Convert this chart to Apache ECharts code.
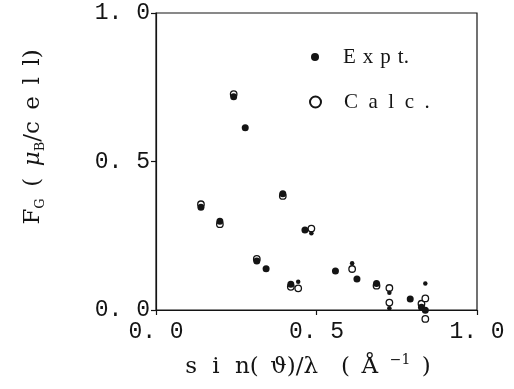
<!DOCTYPE html>
<html>
<head>
<meta charset="utf-8">
<script src="https://cdn.jsdelivr.net/npm/echarts@6/dist/echarts.min.js"></script>
<style>
  html, body { margin: 0; padding: 0; background: #ffffff; }
  #chart { width: 514px; height: 389px; }
</style>
</head>
<body>
<div id="chart"></div>
<script>
// Magnetic form factor F_G (muB/cell) versus sin(theta)/lambda (1/Angstrom)

// Measured reflections (large dots)
const exptX = [0.140, 0.199, 0.242, 0.278, 0.314, 0.343, 0.395, 0.420, 0.464, 0.559, 0.626, 0.687, 0.792, 0.827, 0.839];
const exptY = [0.346, 0.299, 0.718, 0.614, 0.165, 0.139, 0.391, 0.087, 0.269, 0.131, 0.104, 0.089, 0.037, 0.009, -0.001];

// Measured reflections (small dots)
const exptSmallX = [0.443, 0.484, 0.611, 0.727, 0.727, 0.839];
const exptSmallY = [0.095, 0.258, 0.157, 0.058, 0.006, 0.089];

// Calculated values
const calcX = [0.140, 0.199, 0.242, 0.314, 0.395, 0.420, 0.443, 0.484, 0.611, 0.687, 0.727, 0.727, 0.827, 0.839, 0.839];
const calcY = [0.356, 0.289, 0.727, 0.172, 0.384, 0.078, 0.073, 0.274, 0.138, 0.082, 0.074, 0.025, 0.021, 0.039, -0.030];

const xTickLabels = ['0. 0', '0. 5', '1. 0'];
const yTickLabels = ['0. 0', '0. 5', '1. 0'];
const legendLabels = { 'Expt.': 'E\u2004x\u2004p\u2004t.', 'Calc.': 'C\u2002a\u2002l\u2002c\u2002.' };

const INK = '#141414';
const SERIF = "'Liberation Serif', 'DejaVu Serif', serif";
const TITLE = "'DejaVu Serif', 'Liberation Serif', serif";
const MONO = "'Liberation Mono', 'DejaVu Sans Mono', monospace";

function pairs(xs, ys) { return xs.map((x, i) => [x, ys[i]]); }
function tickText(labels) { return v => labels[Math.round(v / 0.5)]; }

const chart = echarts.init(document.getElementById('chart'), null, { renderer: 'canvas' });

const axisCommon = {
  type: 'value',
  min: 0,
  max: 1,
  interval: 0.5,
  axisLine: { show: true, lineStyle: { color: INK, width: 1.2 } },
  axisTick: { show: true, inside: false, length: 5, lineStyle: { color: INK, width: 1.2 } },
  splitLine: { show: false },
  axisLabel: { color: INK, fontFamily: MONO, fontSize: 23 }
};

chart.setOption({
  animation: false,
  backgroundColor: '#ffffff',
  grid: {
    left: 156, right: 37, top: 13, bottom: 79,
    show: true, borderColor: INK, borderWidth: 1.2, backgroundColor: 'transparent',
    containLabel: false, outerBoundsMode: 'none'
  },
  xAxis: Object.assign({}, axisCommon, {
    axisLabel: Object.assign({}, axisCommon.axisLabel, { margin: 10, formatter: tickText(xTickLabels) })
  }),
  yAxis: Object.assign({}, axisCommon, {
    axisLabel: Object.assign({}, axisCommon.axisLabel, { margin: 6, formatter: tickText(yTickLabels) })
  }),
  legend: [
    {
      data: ['Expt.'], left: 311, top: 46, padding: 0, orient: 'vertical',
      icon: 'circle', itemWidth: 8, itemHeight: 8, selectedMode: false,
      formatter: n => legendLabels[n],
      textStyle: { fontFamily: SERIF, fontSize: 21, color: INK, lineHeight: 22, padding: [0, 0, 0, 19] }
    },
    {
      data: ['Calc.'], left: 309, top: 91, padding: 0, orient: 'vertical',
      icon: 'circle', itemWidth: 11, itemHeight: 11, selectedMode: false,
      formatter: n => legendLabels[n],
      textStyle: { fontFamily: SERIF, fontSize: 21, color: INK, lineHeight: 22, padding: [0, 0, 0, 18] }
    }
  ],
  series: [
    {
      name: 'Calc.', type: 'scatter', clip: false, z: 2,
      symbol: 'circle', symbolSize: 6.5,
      itemStyle: { color: '#ffffff', borderColor: INK, borderWidth: 1.3, opacity: 1 },
      emphasis: { disabled: true },
      data: pairs(calcX, calcY)
    },
    {
      name: 'Expt.', type: 'scatter', clip: false, z: 3,
      symbol: 'circle', symbolSize: 7,
      itemStyle: { color: INK, opacity: 1 },
      emphasis: { disabled: true },
      data: pairs(exptX, exptY)
    },
    {
      name: 'Expt.', type: 'scatter', clip: false, z: 3,
      symbol: 'circle', symbolSize: 4.5,
      itemStyle: { color: INK, opacity: 1 },
      emphasis: { disabled: true },
      data: pairs(exptSmallX, exptSmallY)
    }
  ],
  graphic: [
    {
      type: 'text', x: 33, y: 137, rotation: Math.PI / 2,
      style: {
        text: '{b|F}{s|G}{b|\u2002(\u2002}{i|\u03bc}{s|B}{b|/c\u2002e\u2002l\u2002l)}',
        align: 'center', verticalAlign: 'middle', textAlign: 'center', textVerticalAlign: 'middle',
        fill: INK,
        rich: {
          b: { fontFamily: TITLE, fontSize: 23, lineHeight: 28, fill: INK, color: INK },
          i: { fontFamily: TITLE, fontSize: 23, fontStyle: 'italic', lineHeight: 28, fill: INK, color: INK },
          s: { fontFamily: TITLE, fontSize: 13, lineHeight: 13, verticalAlign: 'bottom', fill: INK, color: INK }
        }
      }
    },
    {
      type: 'text', x: 308, y: 367,
      style: {
        text: '{b|s\u2002\u2006i\u2002\u2006n(\u2002\u03d1)/\u03bb\u2003(\u2002\u00c5\u2002}{p|\u22121}{b|\u2002)}',
        align: 'center', verticalAlign: 'middle', textAlign: 'center', textVerticalAlign: 'middle',
        fill: INK,
        rich: {
          b: { fontFamily: TITLE, fontSize: 23, lineHeight: 28, fill: INK, color: INK },
          p: { fontFamily: TITLE, fontSize: 14, lineHeight: 14, verticalAlign: 'top', fill: INK, color: INK }
        }
      }
    }
  ]
});
</script>
</body>
</html>
